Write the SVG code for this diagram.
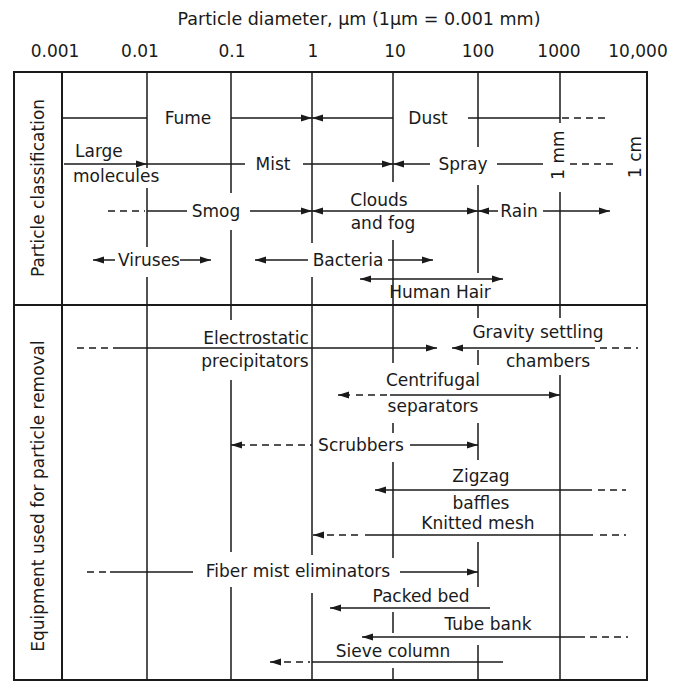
<svg xmlns="http://www.w3.org/2000/svg" width="678" height="682" viewBox="0 0 678 682">
<style>
text{font-family:"DejaVu Sans","Liberation Sans",sans-serif;font-size:17px;fill:#1a1a1a}
.m{text-anchor:middle}
.v{font-size:17px}
.t{font-size:17.5px}
.f{stroke:#1a1a1a;stroke-width:2;fill:none}
.gr{stroke:#1a1a1a;stroke-width:1.5;fill:none}
line{stroke:#1a1a1a;stroke-width:1.5}
.a{marker-end:url(#ah)}
.b{marker-start:url(#ah);marker-end:url(#ah)}
.d{stroke-dasharray:7 5}
</style>
<defs>
<marker id="ah" markerUnits="userSpaceOnUse" markerWidth="12" markerHeight="8" refX="11" refY="4" orient="auto-start-reverse"><path d="M0,0.6 L11,4 L0,7.4 Z" fill="#1a1a1a"/></marker>
</defs>
<rect width="678" height="682" fill="#fff"/>

<g id="axis">
<text class="m t" x="359" y="25">Particle diameter, μm (1μm = 0.001 mm)</text>
<text class="m" x="55" y="57">0.001</text>
<text class="m" x="140" y="57">0.01</text>
<text class="m" x="232" y="57">0.1</text>
<text class="m" x="313" y="57">1</text>
<text class="m" x="395" y="57">10</text>
<text class="m" x="478" y="57">100</text>
<text class="m" x="559" y="57">1000</text>
<text class="m" x="638" y="57">10,000</text>
</g>

<g id="grid">
<rect class="f" x="14" y="72" width="633" height="608"/>
<path class="f" d="M62,72V680 M14,305H647"/>
<path class="gr" d="M147,72V168 M147,188V247 M147,277V680
M231,72V193 M231,230V320 M231,380V552 M231,587V680
M312,72V243 M312,277V555 M312,593V680
M393,72V182 M393,240V363 M393,423V433 M393,462V558 M393,612V633 M393,668V680
M478,72V147 M478,185V273 M478,305V318 M478,350V365 M478,423V460 M478,542V587 M478,645V680
M560,72V123 M560,192V318 M560,375V680"/>
</g>

<g id="section-labels">
<text class="m v" transform="translate(44,188) rotate(-90)">Particle classification</text>
<text class="m v" transform="translate(44,496) rotate(-90)">Equipment used for particle removal</text>
</g>

<g id="units">
<text class="m" transform="translate(564,155) rotate(-90)">1 mm</text>
<text class="m" transform="translate(641,157) rotate(-90)">1 cm</text>
</g>

<g id="connectors">
<!-- Fume -->
<line x1="62" y1="118" x2="147" y2="118"/>
<line class="a" x1="231" y1="118" x2="312" y2="118"/>
<!-- Dust -->
<line class="a" x1="393" y1="118" x2="312" y2="118"/>
<line x1="468" y1="118" x2="560" y2="118"/>
<line class="d" x1="562" y1="118" x2="605" y2="118"/>
<!-- Large molecules -->
<line class="a" x1="64" y1="164" x2="147" y2="164"/>
<!-- Mist -->
<line x1="147" y1="164" x2="245" y2="164"/>
<line class="a" x1="303" y1="164" x2="393" y2="164"/>
<!-- Spray -->
<line class="a" x1="430" y1="164" x2="393" y2="164"/>
<line x1="497" y1="164" x2="543" y2="164"/>
<line class="d" x1="570" y1="164" x2="617" y2="164"/>
<!-- Smog -->
<line class="d" x1="108" y1="211" x2="145" y2="211"/>
<line x1="147" y1="211" x2="187" y2="211"/>
<line class="a" x1="250" y1="211" x2="312" y2="211"/>
<!-- Clouds and fog -->
<line class="b" x1="312" y1="211" x2="478" y2="211"/>
<!-- Rain -->
<line class="a" x1="498" y1="211" x2="478" y2="211"/>
<line class="a" x1="543" y1="211" x2="610" y2="211"/>
<!-- Viruses -->
<line class="a" x1="115" y1="260" x2="93" y2="260"/>
<line class="a" x1="180" y1="260" x2="211" y2="260"/>
<!-- Bacteria -->
<line class="a" x1="308" y1="260" x2="255" y2="260"/>
<line class="a" x1="388" y1="260" x2="433" y2="260"/>
<!-- Human hair -->
<line class="b" x1="360" y1="279" x2="503" y2="279"/>
<!-- Electrostatic precipitators -->
<line class="d" x1="77" y1="348" x2="120" y2="348"/>
<line class="a" x1="120" y1="348" x2="437" y2="348"/>
<!-- Gravity settling chambers -->
<line class="a" x1="595" y1="348" x2="452" y2="348"/>
<line class="d" x1="600" y1="348" x2="638" y2="348"/>
<!-- Centrifugal separators -->
<line class="d" x1="387" y1="395" x2="352" y2="395"/>
<line class="a" x1="350" y1="395" x2="338" y2="395"/>
<line class="a" x1="390" y1="395" x2="560" y2="395"/>
<!-- Scrubbers -->
<line class="a" x1="245" y1="445" x2="231" y2="445"/>
<line class="d" x1="250" y1="445" x2="312" y2="445"/>
<line class="a" x1="410" y1="445" x2="478" y2="445"/>
<!-- Zigzag baffles -->
<line class="a" x1="592" y1="490" x2="375" y2="490"/>
<line class="d" x1="598" y1="490" x2="626" y2="490"/>
<!-- Knitted mesh -->
<line class="a" x1="324" y1="535" x2="313" y2="535"/>
<line class="d" x1="327" y1="535" x2="362" y2="535"/>
<line x1="365" y1="535" x2="593" y2="535"/>
<line class="d" x1="600" y1="535" x2="626" y2="535"/>
<!-- Fiber mist eliminators -->
<line class="d" x1="87" y1="572" x2="110" y2="572"/>
<line x1="110" y1="572" x2="193" y2="572"/>
<line class="a" x1="400" y1="572" x2="478" y2="572"/>
<!-- Packed bed -->
<line class="a" x1="490" y1="608" x2="330" y2="608"/>
<!-- Tube bank -->
<line class="a" x1="585" y1="637" x2="362" y2="637"/>
<line class="d" x1="590" y1="637" x2="628" y2="637"/>
<!-- Sieve column -->
<line class="a" x1="281" y1="662" x2="270" y2="662"/>
<line class="d" x1="284" y1="662" x2="310" y2="662"/>
<line x1="312" y1="662" x2="503" y2="662"/>
</g>

<g id="fume"><text class="m" x="188" y="124">Fume</text></g>
<g id="dust"><text class="m" x="428" y="124">Dust</text></g>
<g id="large-molecules"><text x="75" y="157">Large</text><text x="73" y="182">molecules</text></g>
<g id="mist"><text class="m" x="273" y="170">Mist</text></g>
<g id="spray"><text class="m" x="463" y="170">Spray</text></g>
<g id="smog"><text class="m" x="216" y="217">Smog</text></g>
<g id="clouds-fog"><text class="m" x="379" y="206">Clouds</text><text class="m" x="383" y="229">and fog</text></g>
<g id="rain"><text class="m" x="519" y="217">Rain</text></g>
<g id="viruses"><text class="m" x="149" y="266">Viruses</text></g>
<g id="bacteria"><text class="m" x="348" y="266">Bacteria</text></g>
<g id="human-hair"><text class="m" x="440" y="298">Human Hair</text></g>

<g id="electrostatic"><text class="m" x="256" y="344">Electrostatic</text><text class="m" x="255" y="367">precipitators</text></g>
<g id="gravity"><text class="m" x="538" y="338">Gravity settling</text><text class="m" x="548" y="367">chambers</text></g>
<g id="centrifugal"><text class="m" x="433" y="386">Centrifugal</text><text class="m" x="433" y="412">separators</text></g>
<g id="scrubbers"><text class="m" x="361" y="451">Scrubbers</text></g>
<g id="zigzag"><text class="m" x="481" y="482">Zigzag</text><text class="m" x="481" y="509">baffles</text></g>
<g id="knitted-mesh"><text class="m" x="478" y="529">Knitted mesh</text></g>
<g id="fiber-mist"><text class="m" x="298" y="577">Fiber mist eliminators</text></g>
<g id="packed-bed"><text class="m" x="421" y="602">Packed bed</text></g>
<g id="tube-bank"><text class="m" x="488" y="630">Tube bank</text></g>
<g id="sieve-column"><text class="m" x="393" y="657">Sieve column</text></g>
</svg>
